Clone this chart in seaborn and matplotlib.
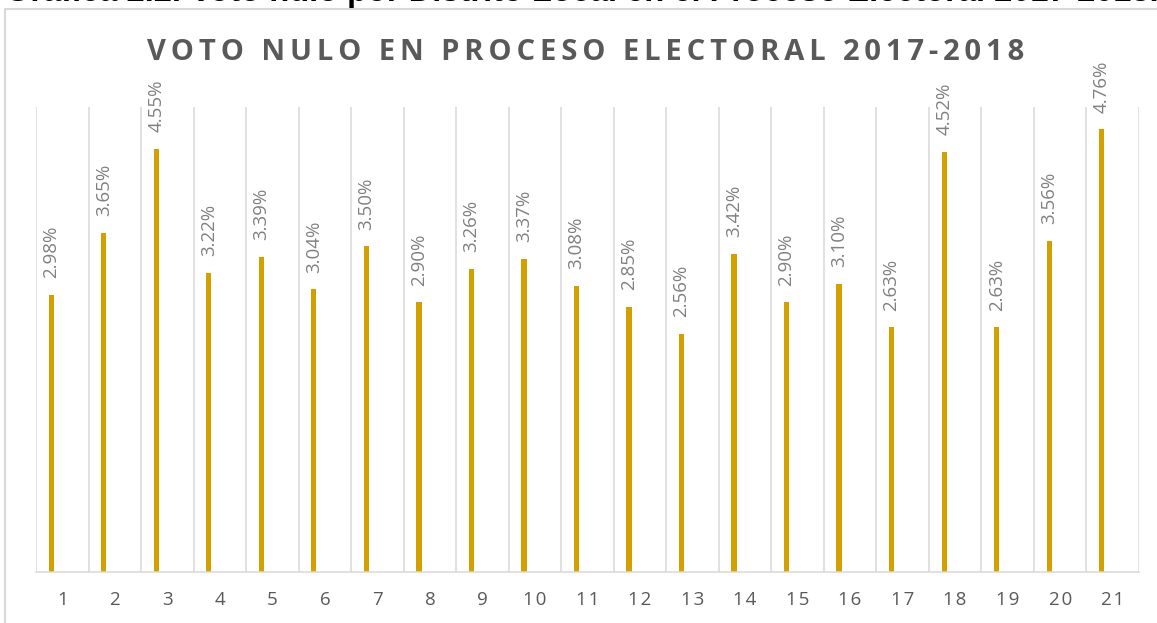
import matplotlib
matplotlib.use("Agg")
import matplotlib.pyplot as plt
from matplotlib.lines import Line2D
import seaborn as sns
import pandas as pd
import numpy as np

# Datos: voto nulo (%) por distrito local
distritos = [str(i) for i in range(1, 22)]
voto_nulo = [2.98, 3.65, 4.55, 3.22, 3.39, 3.04, 3.50, 2.90, 3.26, 3.37, 3.08,
             2.85, 2.56, 3.42, 2.90, 3.10, 2.63, 4.52, 2.63, 3.56, 4.76]
serie_vacia = [np.nan] * len(distritos)

titulo = "VOTO NULO EN PROCESO ELECTORAL 2017-2018"
encabezado = "Gráfica 2.2. Voto nulo por Distrito Local en el Proceso Electoral 2017-2018."

df = pd.DataFrame({
    "distrito": distritos * 2,
    "valor": voto_nulo + serie_vacia,
    "serie": ["nulo"] * len(distritos) + ["vacia"] * len(distritos),
})

sns.set_theme(style="white")
plt.rcParams["font.family"] = ["Open Sans", "DejaVu Sans"]

W, H = 1157, 623
fig = plt.figure(figsize=(W / 100, H / 100), dpi=100)
ax = fig.add_axes([36 / W, 1 - 572 / H, (1139 - 36) / W, (572 - 107) / H])

sns.barplot(data=df, x="distrito", y="valor", hue="serie", dodge=True,
            width=0.84, palette=["#d4a000", "#d4a000"], legend=False,
            errorbar=None, saturation=1, ax=ax)

# barras delgadas como en Excel
bw = 0.1
for p in ax.patches:
    c = p.get_x() + p.get_width() / 2
    p.set_width(bw)
    p.set_x(c - bw / 2)
    p.set_linewidth(0)

for i, v in enumerate(voto_nulo):
    ax.annotate(f"{v:.2f}%", xy=(i - 0.21, v), xytext=(0, 12),
                textcoords="offset points", rotation=90, ha="center",
                va="bottom", fontsize=13.5, color="#808080")

ax.set_ylim(0, 5)
ax.set_xlim(-0.5, len(distritos) - 0.5)
ax.set_yticks([])
ax.set_xlabel("")
ax.set_ylabel("")
ax.set_xticks(range(len(distritos)))
ax.set_xticklabels(["\u200a".join(d) for d in distritos], fontsize=13.5,
                   color="#595959")
ax.tick_params(axis="x", length=0, pad=14)
for b in np.arange(-0.5, len(distritos), 1.0):
    ax.axvline(b, color="#d9d9d9", lw=1.1, zorder=0)
for s in ["top", "right", "left"]:
    ax.spines[s].set_visible(False)
ax.spines["bottom"].set_color("#d9d9d9")
ax.spines["bottom"].set_linewidth(1.1)

# título con espaciado entre letras
fig.text(586 / W, 1 - 53 / H, "\u2006".join(titulo), ha="center", va="center",
         fontsize=21, fontweight="bold", color="#595959")

# marco del área del gráfico
fig.add_artist(Line2D([5 / W, 5 / W], [0, 1 - 9 / H], color="#d9d9d9", lw=1.5))
fig.add_artist(Line2D([5 / W, 1], [1 - 9 / H, 1 - 9 / H], color="#d9d9d9", lw=1.5))

# encabezado recortado en la parte superior
fig.text(5 / W, 1 - 1 / H, encabezado, ha="left", va="baseline",
         fontsize=23.5, fontweight="bold", color="black",
         family=["Liberation Sans", "DejaVu Sans"])

fig.savefig("out.png", dpi=100)
